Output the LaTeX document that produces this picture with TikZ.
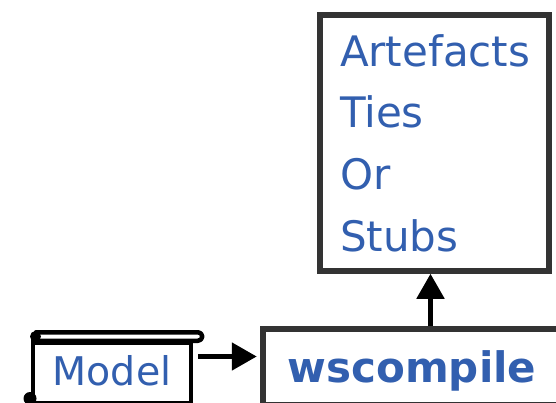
\documentclass[tikz,border=0pt]{standalone}
\usepackage{fontspec}
\setmainfont{DejaVu Sans}
\usetikzlibrary{arrows.meta}
\definecolor{txtblue}{RGB}{50,95,175}
\definecolor{boxgray}{RGB}{51,51,51}
\begin{document}
\begin{tikzpicture}[x=1pt,y=-1pt,
  boxstyle/.style={draw=boxgray, line width=5.5pt, fill=white, inner sep=0pt},
  scrollline/.style={draw=black, line width=4.5pt},
  arr/.style={line width=5pt, -{Triangle[length=25pt,width=27pt]}},
  txt/.style={text=txtblue}]
\useasboundingbox (0,0) rectangle (556,403);
\clip (0,0) rectangle (556,403);
% output box
\node[boxstyle, txt, anchor=north west, minimum width=229pt, minimum height=256pt,
      text width=189pt, align=left, inner xsep=20pt,
      font=\fontsize{42}{61.7}\selectfont] (art) at (317.25,12.25)
      {Artefacts\\Ties\\Or\\Stubs};
% compiler box
\node[boxstyle, txt, anchor=north west, minimum width=298pt, minimum height=76pt,
      text height=30pt, text depth=0pt,
      font=\fontsize{42}{50}\bfseries\selectfont] (wsc) at (260.25,326.25) {wscompile};
% model scroll
\node[scrollline, fill=white, txt, anchor=north west, minimum width=158pt, minimum height=60pt,
      inner sep=0pt, text height=24pt, text depth=0pt,
      font=\fontsize{39.5}{48}\selectfont] (model) at (30.75,340.75) {Model};
\draw[scrollline] (33,334) -- (33,343);
\draw[scrollline, fill=white, line cap=round, line join=round]
  (36,332.25) -- (198,332.25) arc (-90:90:4.25) -- (36,340.75);
\fill (35.5,336.5) circle (5.5pt);
\fill (30,398.5) circle (6.5pt);
% connectors
\coordinate (h) at (0,356.5);
\coordinate (v) at (430.5,0);
\draw[arr, shorten <=5pt, shorten >=3.5pt] (model.east |- h) -- (wsc.west |- h);
\draw[arr] (wsc.north -| v) -- (art.south -| v);
\end{tikzpicture}
\end{document}
